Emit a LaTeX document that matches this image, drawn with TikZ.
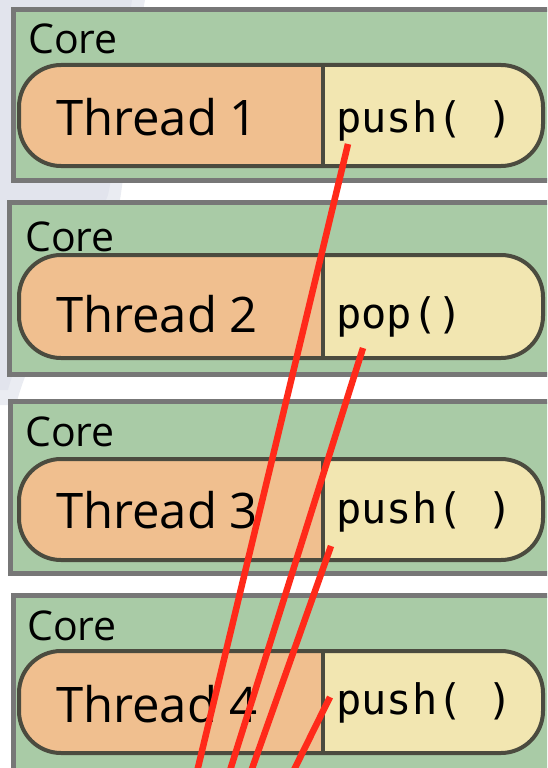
\documentclass[tikz,border=0pt]{standalone}
\usepackage{fontspec}
\setmainfont{Open Sans}
\newfontfamily\codefont{DejaVu Sans Mono}

\definecolor{coregreen}{HTML}{A9CBA6}
\definecolor{coreedge}{HTML}{777777}
\definecolor{threadpeach}{HTML}{F0BF8F}
\definecolor{callyellow}{HTML}{F2E6B1}
\definecolor{threadedge}{HTML}{4B4B3F}
\definecolor{tracered}{HTML}{FF2A1A}
\definecolor{haze}{HTML}{DCDFE9}

\tikzset{
  corebox/.style={draw=coreedge, fill=coregreen, line width=5pt, inner sep=0pt,
    outer sep=0pt, anchor=north west, minimum width=600pt},
  threadpill/.style={draw=threadedge, fill=callyellow, line width=4pt, inner sep=0pt,
    outer sep=0pt, rounded corners=42pt, minimum width=524pt, minimum height=101pt,
    path picture={\fill[threadpeach, sharp corners] (path picture bounding box.south west)
      rectangle ([xshift=304pt]path picture bounding box.north west);}},
  divider/.style={draw=threadedge, line width=4pt},
  corelabel/.style={anchor=base west, inner sep=0pt, font=\fontsize{41}{43}\selectfont},
  threadlabel/.style={anchor=base west, inner sep=0pt, font=\fontsize{49}{51}\selectfont},
  calllabel/.style={anchor=base west, inner sep=0pt, font=\codefont\fontsize{42}{44}\selectfont},
  trace/.style={draw=tracered, line width=6.5pt},
}

\begin{document}
\begin{tikzpicture}[x=1pt, y=-1pt]
\useasboundingbox (0,0) rectangle (547,768);
\clip (0,0) rectangle (547,768);

% faint backdrop on the left
\fill[haze, opacity=0.6] (0,0) -- (145,0) .. controls (132,70) and (128,150) .. (120,200)
  .. controls (95,260) and (35,330) .. (16,405) -- (0,405) -- cycle;
\fill[haze, opacity=0.6] (0,0) -- (132,0) .. controls (122,70) and (118,150) .. (108,195)
  .. controls (85,255) and (25,325) .. (8,390) -- (0,390) -- cycle;

% cores
\node[corebox, minimum height=171pt] (core1) at (13.5,9.5) {};
\node[corebox, minimum height=172pt] (core2) at (9.5,202.5) {};
\node[corebox, minimum height=172pt] (core3) at (10.5,401.5) {};
\node[corebox, minimum height=220pt] (core4) at (13.5,595.5) {};

\node[corelabel] (core1label) at (28,54) {Core};
\node[corelabel] (core2label) at (25,251) {Core};
\node[corelabel] (core3label) at (25,446) {Core};
\node[corelabel] (core4label) at (27,640) {Core};

% threads with their calls
\node[threadpill] (thread1) at (281,115.5) {};
\node[threadpill, minimum height=103pt] (thread2) at (281,306.5) {};
\node[threadpill] (thread3) at (281,509.5) {};
\node[threadpill, minimum height=102pt] (thread4) at (281,702) {};

\foreach \t in {1,2,3,4}
  \draw[divider] ([xshift=304pt]thread\t.north west) -- ([xshift=304pt]thread\t.south west);

\node[threadlabel] (thread1label) at (56,135) {Thread 1};
\node[threadlabel] (thread2label) at (56,332) {Thread 2};
\node[threadlabel] (thread3label) at (56,528) {Thread 3};
\node[threadlabel] (thread4label) at (56,722) {Thread 4};

\node[calllabel] (call1) at (336,132) {push(~)};
\node[calllabel] (call2) at (336,328) {pop()};
\node[calllabel] (call3) at (336,523) {push(~)};
\node[calllabel] (call4) at (336,714) {push(~)};

% traces running out of the bottom
\coordinate (from1) at (348,144);
\coordinate (from2) at (363,348);
\coordinate (from3) at (331,546);
\coordinate (from4) at (330,697);
\coordinate (to1) at (195,780);
\coordinate (to2) at (227,780);
\coordinate (to3) at (248,780);
\coordinate (to4) at (289,780);

\draw[trace] (from1) -- (to1);
\draw[trace] (from2) -- (to2);
\draw[trace] (from3) -- (to3);
\draw[trace] (from4) -- (to4);
\end{tikzpicture}
\end{document}
